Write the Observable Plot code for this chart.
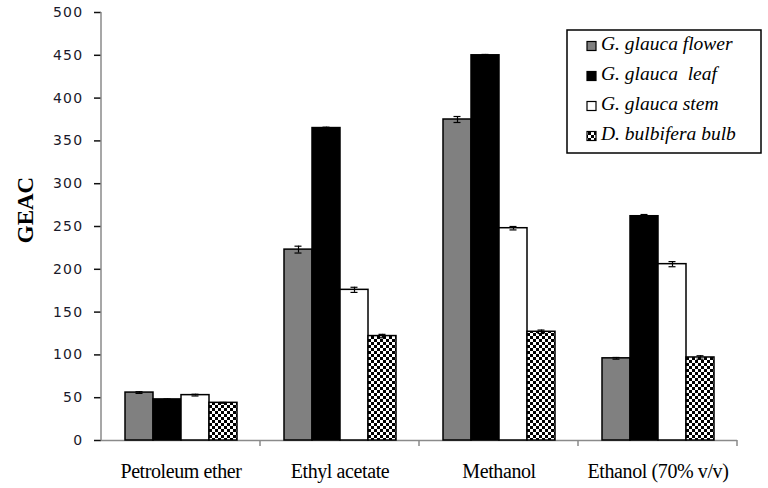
<!DOCTYPE html>
<html><head><meta charset="utf-8">
<script src="https://cdn.jsdelivr.net/npm/d3@7"></script>
<script src="https://cdn.jsdelivr.net/npm/@observablehq/plot@0.6"></script>
<style>body{margin:0;background:#fff} #chart{position:relative;width:768px;height:488px}</style>
</head><body><div id="chart"></div>
<script>
const categories = ["Petroleum ether", "Ethyl acetate", "Methanol", "Ethanol (70% v/v)"];
const series = ["G. glauca flower", "G. glauca  leaf", "G. glauca stem", "D. bulbifera bulb"];
const flower = [56, 223, 375, 96];
const leaf = [48, 365, 450, 262];
const stem = [53, 176, 248, 206];
const bulb = [44, 122, 127, 97];
const flowerErr = [1, 4, 3.5, 1];
const leafErr = [0.5, 1, 1, 2];
const stemErr = [1, 3, 2, 3];
const bulbErr = [0.5, 2, 2, 2];
const yTicks = [0, 50, 100, 150, 200, 250, 300, 350, 400, 450, 500];
const yLabel = "GEAC";

const values = [flower, leaf, stem, bulb];
const errors = [flowerErr, leafErr, stemErr, bulbErr];
const rows = [];
categories.forEach((c, i) => series.forEach((s, j) => rows.push({cat: c, series: s, value: values[j][i], err: errors[j][i]})));

const plot = Plot.plot({
  width: 768, height: 488,
  marginLeft: 99, marginRight: 30, marginTop: 12, marginBottom: 48,
  style: {fontFamily: "Liberation Serif", fontSize: "16px", color: "#111", background: "#fff"},
  fx: {domain: categories, paddingInner: 0, paddingOuter: 0, label: null, tickSize: 0, tickPadding: 23},
  x: {domain: series, axis: null, paddingInner: 0, paddingOuter: 0.76},
  y: {domain: [0, 500], ticks: yTicks, label: null, tickSize: 7, tickPadding: 11},
  color: {domain: series, range: ["#808080", "#000000", "#ffffff", "url(#checker)"]},
  marks: [
    Plot.ruleY([0], {stroke: "#8a8a8a", strokeWidth: 1.5}),
    Plot.barY(rows, {fx: "cat", x: "series", y: "value", fill: "series", stroke: "#000", strokeWidth: 1.5}),
    Plot.ruleX(rows, {fx: "cat", x: "series", y1: d => d.value - d.err, y2: d => d.value + d.err, stroke: "#000", strokeWidth: 1.2}),
    Plot.tickY(rows, {fx: "cat", x: "series", y: d => d.value + d.err, stroke: "#000", strokeWidth: 1.2, insetLeft: 10.5, insetRight: 10.5}),
    Plot.tickY(rows, {fx: "cat", x: "series", y: d => d.value - d.err, stroke: "#000", strokeWidth: 1.2, insetLeft: 10.5, insetRight: 10.5})
  ]
});

const svg = d3.select(plot);
const defs = svg.insert("defs", ":first-child");
const pat = defs.append("pattern").attr("id", "checker").attr("width", 6).attr("height", 6).attr("patternUnits", "userSpaceOnUse");
pat.append("rect").attr("width", 6).attr("height", 6).attr("fill", "#fff");
pat.append("rect").attr("width", 3).attr("height", 3).attr("fill", "#000");
pat.append("rect").attr("x", 3).attr("y", 3).attr("width", 3).attr("height", 3).attr("fill", "#000");

svg.selectAll('[aria-label="y-axis tick"]').attr("stroke", "#8a8a8a").attr("stroke-width", 1.5);
svg.selectAll('[aria-label="y-axis tick label"]').attr("font-family", "DejaVu Sans").attr("font-size", 14).attr("letter-spacing", 1.3).attr("fill", "#1a1a2a");
svg.selectAll('[aria-label="fx-axis tick label"]').attr("font-family", "Liberation Serif").attr("font-size", 20).attr("letter-spacing", -0.4).attr("fill", "#000");

const y = plot.scale("y"), fx = plot.scale("fx");
const y0 = y.apply(0), yTop = y.apply(500);
const axisG = svg.append("g").attr("stroke", "#8a8a8a").attr("stroke-width", 1.5);
axisG.append("line").attr("x1", fx.apply(categories[0])).attr("x2", fx.apply(categories[0])).attr("y1", y0 + 0.5).attr("y2", yTop);
categories.forEach(c => {
  const xb = fx.apply(c) + fx.bandwidth;
  axisG.append("line").attr("x1", xb).attr("x2", xb).attr("y1", y0).attr("y2", y0 + 6);
});

svg.append("text").attr("transform", `translate(28,210) rotate(-90)`).attr("text-anchor", "middle").attr("dominant-baseline", "middle")
  .attr("font-family", "Liberation Serif").attr("font-weight", "bold").attr("font-size", 23).attr("fill", "#000").text(yLabel);

const color = plot.scale("color");
const lg = svg.append("g").attr("text-anchor", "start");
lg.append("rect").attr("x", 567).attr("y", 30).attr("width", 194).attr("height", 123).attr("fill", "#fff").attr("stroke", "#000").attr("stroke-width", 1.5);
series.forEach((s, i) => {
  const cy = 46 + i * 30;
  lg.append("rect").attr("x", 587).attr("y", cy - 4.5).attr("width", 9).attr("height", 9).attr("fill", color.apply(s)).attr("stroke", "#000").attr("stroke-width", 1.2);
  lg.append("text").attr("x", 601).attr("y", cy).attr("text-anchor", "start").attr("dominant-baseline", "middle").attr("font-family", "Liberation Serif").attr("font-style", "italic")
    .attr("font-size", 19.5).attr("fill", "#000").style("white-space", "pre").text(s);
});

document.getElementById("chart").appendChild(plot);
</script>
</body></html>
